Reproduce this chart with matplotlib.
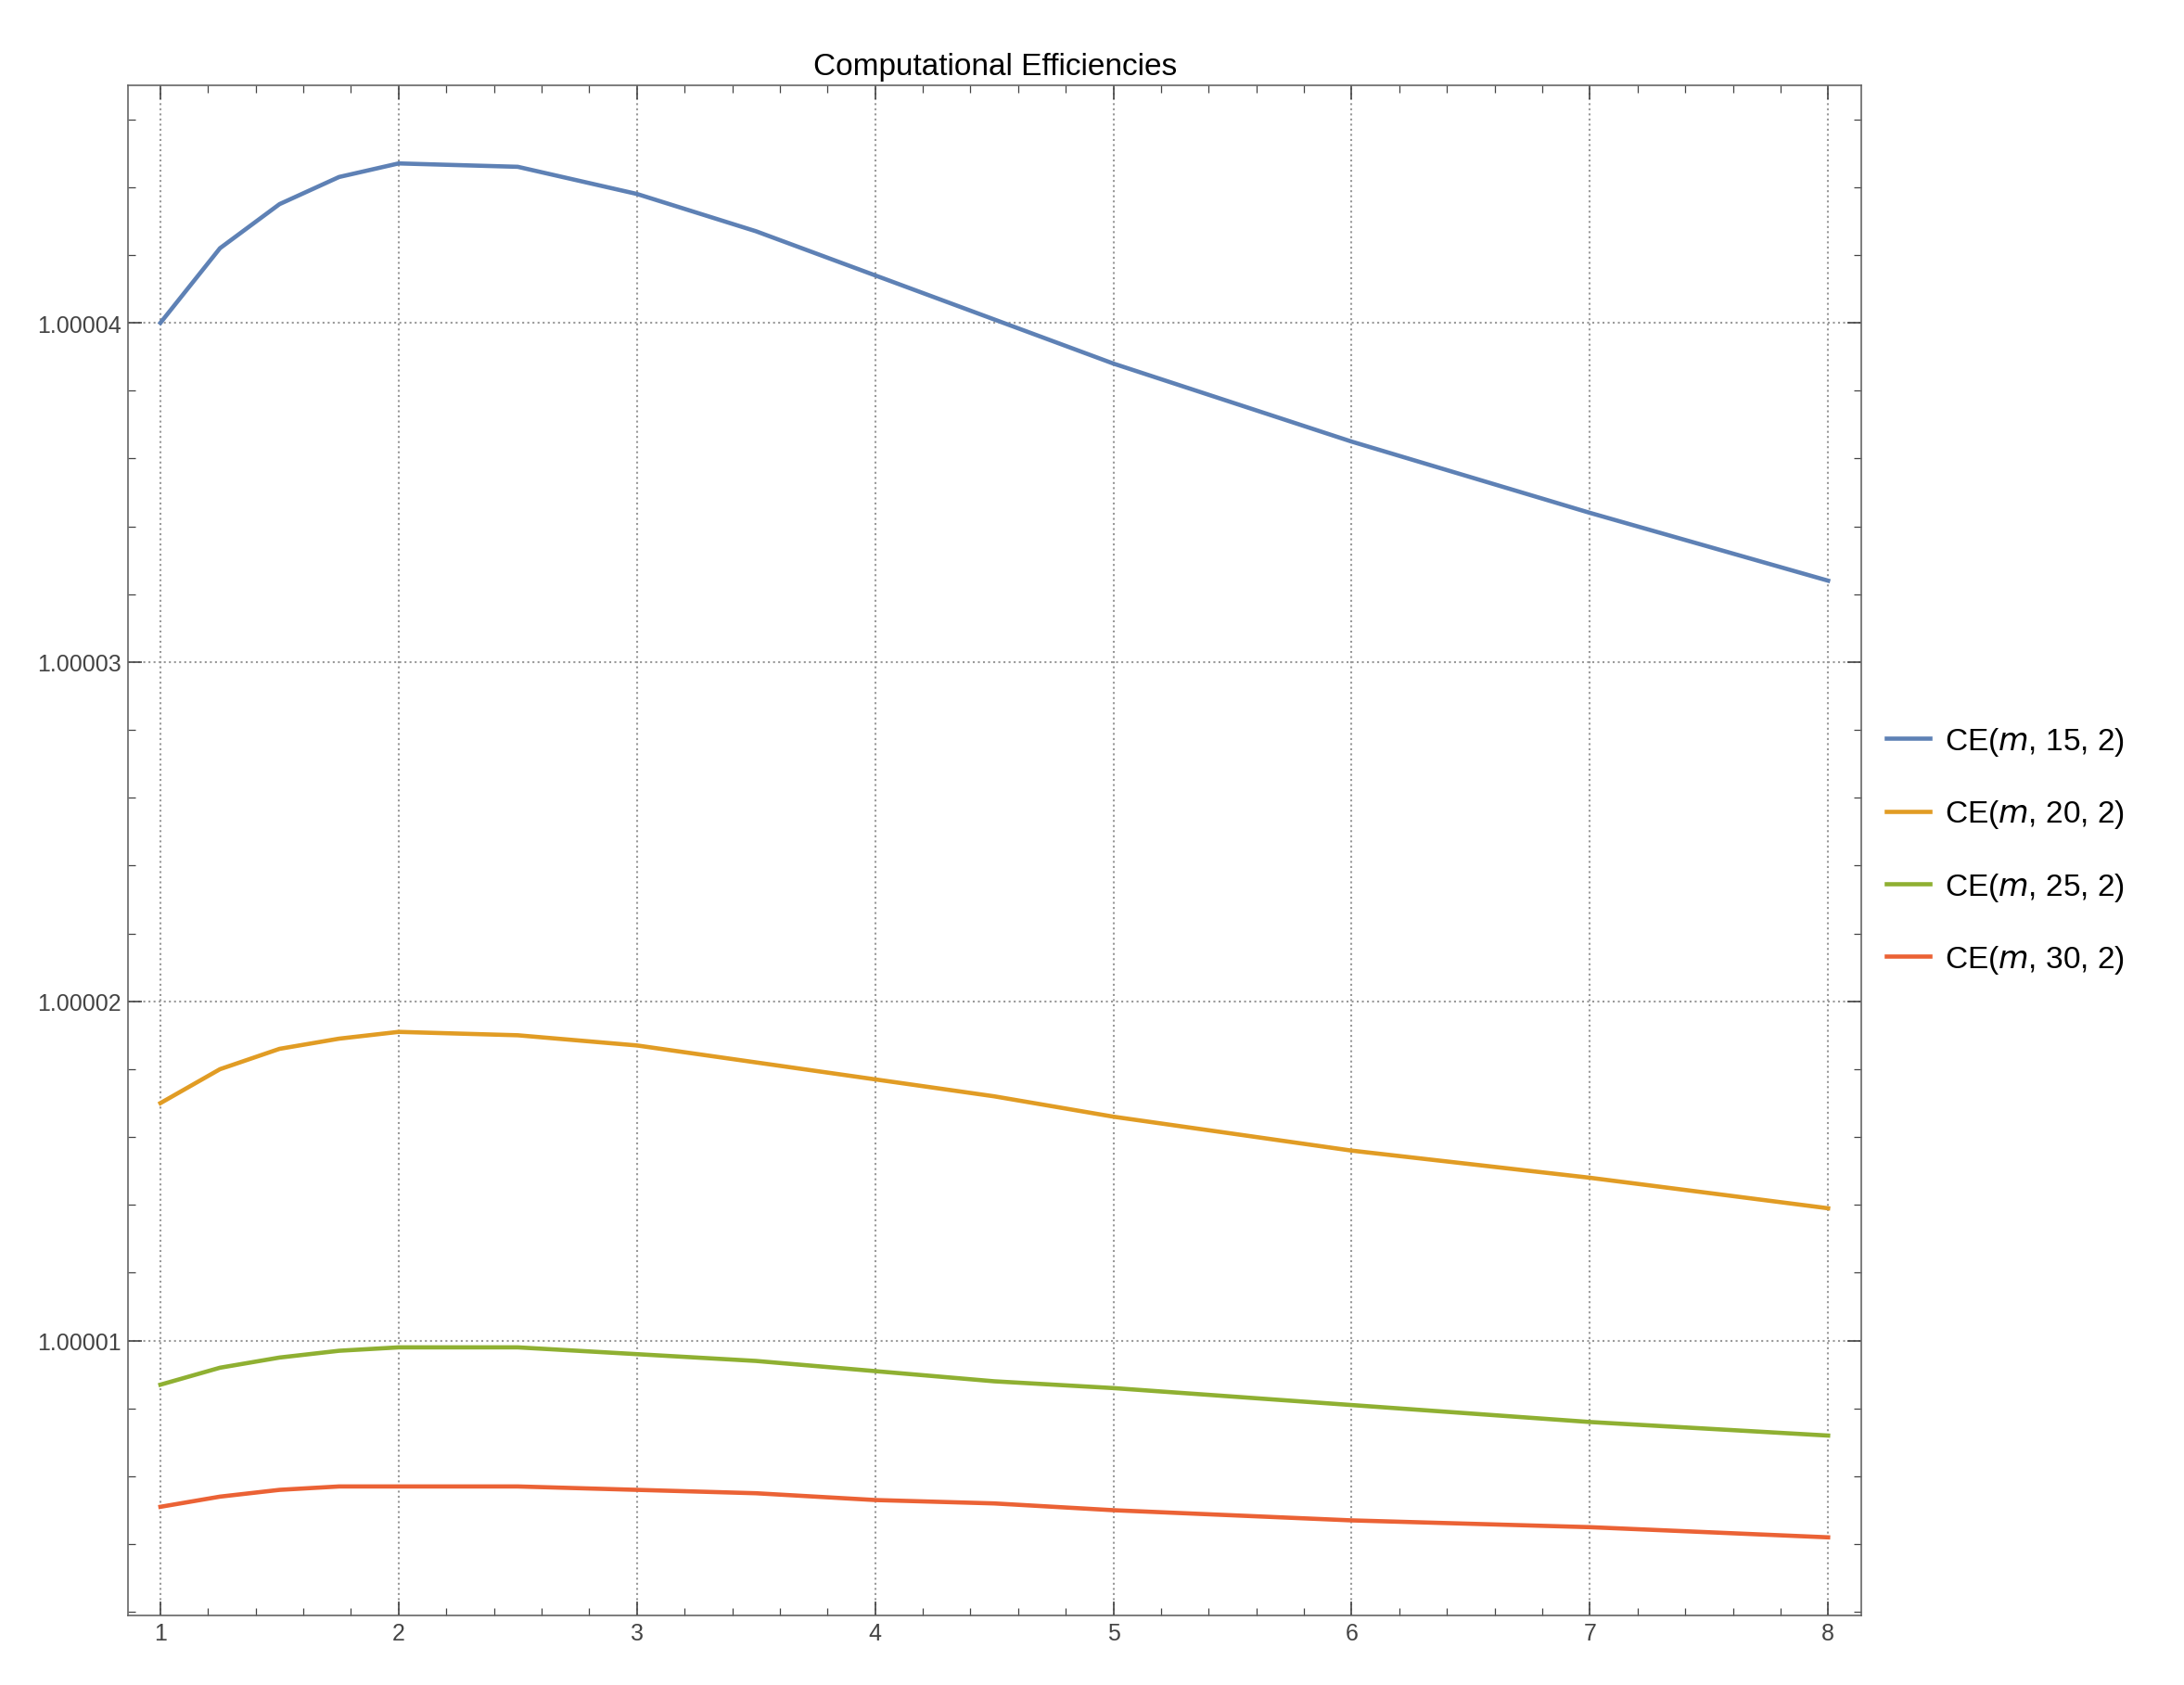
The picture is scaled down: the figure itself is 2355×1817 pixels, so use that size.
import matplotlib.pyplot as plt
from matplotlib.ticker import AutoMinorLocator

plt.rcParams['font.family'] = ['Liberation Sans', 'DejaVu Sans']

m = [1, 1.25, 1.5, 1.75, 2, 2.5, 3, 3.5, 4, 4.5, 5, 6, 7, 8]
ce15 = [1.0000400, 1.0000422, 1.0000435, 1.0000443, 1.0000447, 1.0000446, 1.0000438, 1.0000427,
        1.0000414, 1.0000401, 1.0000388, 1.0000365, 1.0000344, 1.0000324]
ce20 = [1.0000170, 1.0000180, 1.0000186, 1.0000189, 1.0000191, 1.0000190, 1.0000187, 1.0000182,
        1.0000177, 1.0000172, 1.0000166, 1.0000156, 1.0000148, 1.0000139]
ce25 = [1.0000087, 1.0000092, 1.0000095, 1.0000097, 1.0000098, 1.0000098, 1.0000096, 1.0000094,
        1.0000091, 1.0000088, 1.0000086, 1.0000081, 1.0000076, 1.0000072]
ce30 = [1.0000051, 1.0000054, 1.0000056, 1.0000057, 1.0000057, 1.0000057, 1.0000056, 1.0000055,
        1.0000053, 1.0000052, 1.0000050, 1.0000047, 1.0000045, 1.0000042]
labels = ['CE($m$, 15, 2)', 'CE($m$, 20, 2)', 'CE($m$, 25, 2)', 'CE($m$, 30, 2)']
colors = ['#5e81b5', '#e19c24', '#8fb032', '#eb6235']
yticks = [1.00001, 1.00002, 1.00003, 1.00004]
ytick_labels = ['1.00001', '1.00002', '1.00003', '1.00004']

fig = plt.figure(figsize=(15.706, 12.12), dpi=150)
ax = fig.add_axes([0.0587, 0.0413, 0.7933, 0.9075])
for ys, lab, c in zip([ce15, ce20, ce25, ce30], labels, colors):
    ax.plot(m, ys, color=c, lw=2.2, label=lab, solid_joinstyle='round')

ax.set_xlim(0.865, 8.14)
ax.set_ylim(1.0000019, 1.000047)
ax.set_xticks(range(1, 9))
ax.set_yticks(yticks)
ax.set_yticklabels(ytick_labels)
ax.xaxis.set_minor_locator(AutoMinorLocator(5))
ax.yaxis.set_minor_locator(AutoMinorLocator(5))
ax.tick_params(which='both', direction='in', top=True, right=True, labelsize=12, colors='#444444')
ax.tick_params(which='major', length=7)
ax.tick_params(which='minor', length=4)
ax.grid(True, which='major', ls=':', color='#999999', lw=1)
for s in ax.spines.values():
    s.set_color('#666666')
ax.set_title('Computational Efficiencies', fontsize=16)
ax.legend(loc='center left', bbox_to_anchor=(1.0, 0.5), frameon=False,
          fontsize=16, handlelength=1.4, handletextpad=0.5, labelspacing=1.3,
          borderaxespad=0.4)
fig.savefig('out.png')
